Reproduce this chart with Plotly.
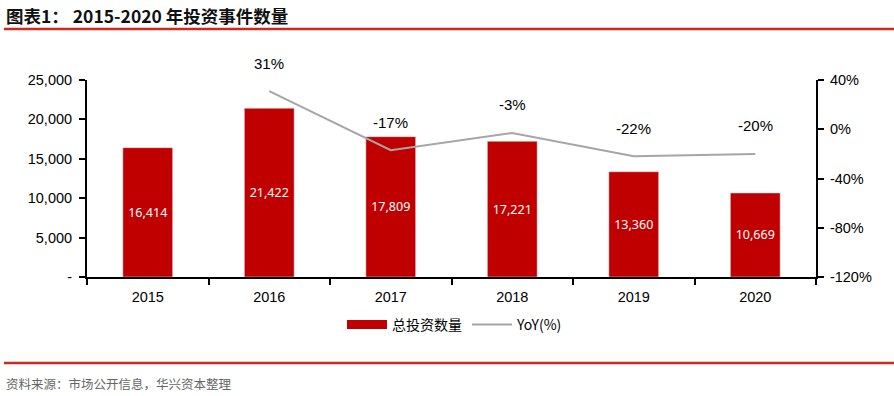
import plotly.graph_objects as go

years = ["2015", "2016", "2017", "2018", "2019", "2020"]
counts = [16414, 21422, 17809, 17221, 13360, 10669]
yoy_years = ["2016", "2017", "2018", "2019", "2020"]
yoy = [31, -17, -3, -22, -20]
left_ticks = [0, 5000, 10000, 15000, 20000, 25000]
left_labels = ["-", "5,000", "10,000", "15,000", "20,000", "25,000"]
right_ticks = [-120, -80, -40, 0, 40]
right_labels = ["-120%", "-80%", "-40%", "0%", "40%"]

W, H = 894, 396
L, R, T, B = 87, 78, 80, 119
pw, ph = W - L - R, H - T - B

def px_x(x):
    return (x - L) / pw

def px_y(y):
    return (H - B - y) / ph

base_font = "Liberation Sans, Arial, sans-serif"
cjk_font = "Noto Sans CJK SC, sans-serif"
RED = "#C00000"

fig = go.Figure()
fig.add_trace(go.Bar(
    x=years, y=counts, name="总投资数量", showlegend=False,
    marker_color=RED, width=0.41,
    text=[f"{v:,}" for v in counts], textposition="inside",
    insidetextanchor="middle",
    textfont=dict(color="white", size=12.5, family="Noto Sans, sans-serif"),
))
# legend-only entry showing a wide red swatch like the reference
fig.add_trace(go.Scatter(
    x=[None], y=[None], name="总投资数量", mode="lines",
    line=dict(color=RED, width=9),
))
fig.add_trace(go.Scatter(
    x=yoy_years, y=yoy, name="YoY(%)", yaxis="y2", mode="lines",
    line=dict(color="#A6A6A6", width=2),
))

for xv, yv in zip(yoy_years, yoy):
    fig.add_annotation(x=years.index(xv), y=yv, xref="x", yref="y2", text=f"{yv}%",
                       showarrow=False, yshift=28,
                       font=dict(size=15, color="#000000", family=base_font))

fig.add_annotation(x=px_x(4), y=px_y(15), xref="paper", yref="paper",
                   text="<b>图表1： 2015-2020 年投资事件数量</b>", showarrow=False,
                   xanchor="left", yanchor="middle",
                   font=dict(size=17.5, color="#111111", family=cjk_font))
fig.add_annotation(x=px_x(4), y=px_y(383), xref="paper", yref="paper",
                   text="资料来源：市场公开信息，华兴资本整理", showarrow=False,
                   xanchor="left", yanchor="middle",
                   font=dict(size=12.5, color="#666666", family=cjk_font))

for yl in [29, 363]:
    fig.add_shape(type="line", xref="paper", yref="paper",
                  x0=px_x(4), x1=px_x(894), y0=px_y(yl), y1=px_y(yl),
                  line=dict(color="#D0281C", width=2.5))

axis_common = dict(showline=True, linecolor="#000000", linewidth=2,
                   ticks="outside", ticklen=6, tickcolor="#000000", tickwidth=2,
                   tickfont=dict(size=14.5, family=base_font, color="#000000"))

fig.update_layout(
    width=W, height=H,
    margin=dict(l=L, r=R, t=T, b=B, autoexpand=False),
    plot_bgcolor="white", paper_bgcolor="white",
    font=dict(family=base_font, size=13, color="#000000"),
    showlegend=True,
    legend=dict(orientation="h", x=px_x(455), y=px_y(325), xanchor="center",
                yanchor="middle", font=dict(family=cjk_font, size=14, color="#000000"),
                itemwidth=40, tracegroupgap=0),
    xaxis=dict(type="category", range=[-0.5, 5.5], tickson="boundaries",
               ticklabelstandoff=6, **axis_common),
    yaxis=dict(range=[0, 25000], tickvals=left_ticks, ticktext=left_labels,
               showgrid=False, zeroline=False, ticklabelstandoff=4, **axis_common),
    yaxis2=dict(range=[-120, 40], tickvals=right_ticks, ticktext=right_labels,
                overlaying="y", side="right", showgrid=False, zeroline=False,
                ticklabelstandoff=3, **axis_common),
)

fig.write_html("out.html", config={"displayModeBar": False},
               post_script="document.body.style.margin='0';document.body.style.overflow='hidden';")
